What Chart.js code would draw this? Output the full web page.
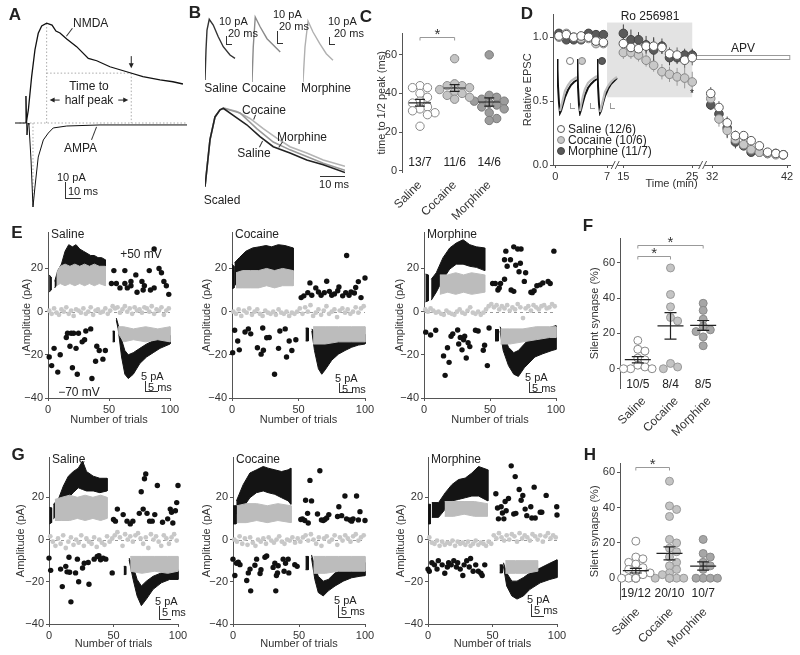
<!DOCTYPE html>
<html lang="en">
<head>
<meta charset="UTF-8">
<title>Silent synapses after cocaine and morphine</title>
<script src="https://cdn.jsdelivr.net/npm/chart.js"></script>
<style>
  body { margin: 0; background: #fff; }
  #fig { position: relative; width: 800px; height: 655px; overflow: hidden; background: #fff;
         font-family: "Liberation Sans", Arial, sans-serif; color: #222; }
  #fig canvas { position: absolute; }
  .t { position: absolute; white-space: nowrap; line-height: 1; transform: translate(-50%, -50%); font-size: 12px; }
  .lt { position: absolute; font-weight: bold; font-size: 17px; transform: translate(-50%, -50%); }
  .bar { position: absolute; border-left: 1px solid #333; border-bottom: 1px solid #333; }
  .seg { position: absolute; height: 1px; background: #333; transform-origin: 0 0; }
  .dot { position: absolute; width: 8px; height: 8px; border-radius: 50%; box-sizing: border-box; transform: translate(-50%, -50%); }
</style>
</head>
<body>
<div id="fig"></div>
<script>
// ---------- panel A traces (ms, pA) ----------
const A_NMDA = [[7.5,0],[8.9,8.7],[11.1,30.9],[13.3,48.7],[15.5,59.8],[17.8,64.7],[21.1,66.5],[24.7,65.3],[27.3,61.3],[30,60],[34.5,56],[41.1,50.9],[48.9,43.1],[54.5,41.5],[63.3,37.5],[76.7,33.5],[85.3,30.9],[96.7,28.7],[105.3,27.5],[112,26]];
const A_AMPA = [[0,0],[6.7,0],[7.3,18],[8,-8],[8.7,0],[9.3,-1],[10.7,-24.7],[12,-56],[13.3,-42.7],[15.5,-22.7],[18.9,-11.3],[22.2,-6.7],[25.5,-3.3],[34.5,-2],[56.7,-1.3],[114.7,-1.3]];

// ---------- panel B traces ----------
const B_SAL = [[0,0],[4,30],[8,50],[17,60.7],[33,55],[53,43.3],[73,33.3],[100,25],[120,21.7]];
const B_COC = [[0,0],[5,35],[13,65],[33,55],[60,43.3],[93,35],[113,30]];
const B_MOR = [[0,0],[8,35],[20,61],[40,50],[67,38.3],[93,28.3],[120,21.7]];
const B_SAL_SCALED = [[0,0],[2,0.6],[4,0.89],[6,0.98],[7.3,1],[11.3,0.91],[16.7,0.79],[22,0.64],[27.3,0.51],[34,0.43],[40.7,0.34],[47.3,0.28],[56,0.18]];
const B_COC_SCALED = [[0,0],[2,0.6],[4,0.89],[6,0.98],[8,1],[12.7,0.96],[18,0.87],[23.3,0.74],[28.7,0.62],[34,0.51],[40.7,0.43],[47.3,0.34],[56,0.26]];
const B_MOR_SCALED = [[0,0],[2,0.6],[4,0.89],[6,0.98],[7.6,1],[14,0.94],[20.7,0.74],[27.3,0.57],[34,0.47],[47.3,0.30],[56,0.21]];

// ---------- panels C, F, H ----------
const GROUPS = ['Saline', 'Cocaine', 'Morphine'];
const C_SAL = [44,43,43,40,38,36,35,33,32,31,30,29,23];
const C_COC = [58,45,44,44,43,42,41,40,39,38,37];
const C_MOR = [60,39,38,37,36,36,35,35,34,33,32,30,27,26];
const C_N = ['13/7', '11/6', '14/6'];
const F_SAL = [16,11,10,6,5,2,1,0,0,0];
const F_COC = [57,42,35,29,27,3,1,0];
const F_MOR = [37,33,28,24,22,21,18,13];
const F_N = ['10/5', '8/4', '8/5'];
const H_SAL = [21,12,11,9,8,6,5,4,3,2,0,0,0,0,0,0,0,0,0];
const H_COC = [55,41,39,35,22,20,17,15,12,9,7,5,3,2,0,0,0,0,0,0];
const H_MOR = [22,14,12,9,7,5,0,0,0,0];
const H_N = ['19/12', '20/10', '10/7'];

// ---------- panel D (time in min, relative EPSC) ----------
const D_T = [0.5,1.5,2.5,3.5,4.5,5.5,6.5, 15,16.1,17.2,18.3,19.4,20.6,21.7,22.8,23.9,25, 31.8,32.9,34,35.1,36.2,37.2,38.3,39.4,40.5,41.5];
const D_TICKS = [0, 7, 15, 25, 32, 42];
const D_SAL = [1.01,1.02,1.0,1.01,1.0,0.97,0.96, 0.95,0.92,0.91,0.93,0.93,0.92,0.87,0.86,0.82,0.84, 0.56,0.45,0.33,0.23,0.23,0.19,0.15,0.10,0.09,0.08];
const D_COC = [1.0,1.03,1.0,0.99,0.99,0.95,0.95, 0.88,0.88,0.86,0.82,0.78,0.73,0.71,0.69,0.68,0.65, 0.52,0.36,0.27,0.20,0.16,0.12,0.10,0.09,0.08,0.08];
const D_MOR = [1.03,0.98,0.98,0.98,1.03,1.02,1.02, 1.03,0.98,0.98,0.94,0.90,0.93,0.84,0.84,0.86,0.86, 0.47,0.40,0.29,0.18,0.15,0.10,0.10,0.09,0.09,0.08];
const D_SAL_ERR = [0.02,0.02,0.02,0.02,0.02,0.02,0.02, 0.04,0.05,0.05,0.05,0.06,0.05,0.05,0.06,0.06,0.06, 0.05,0.05,0.05,0.04,0.03,0.03,0.02,0.02,0.01,0.01];
const D_COC_ERR = [0.02,0.02,0.02,0.02,0.02,0.03,0.03, 0.05,0.05,0.05,0.05,0.05,0.06,0.06,0.07,0.08,0.08, 0.06,0.06,0.05,0.04,0.03,0.02,0.02,0.01,0.01,0.01];
const D_MOR_ERR = [0.02,0.02,0.02,0.02,0.02,0.02,0.02, 0.07,0.08,0.06,0.07,0.10,0.06,0.06,0.05,0.05,0.05, 0.04,0.06,0.08,0.05,0.03,0.02,0.02,0.01,0.01,0.01];
const D_INSET_X = [0,0.5,1,2,3,4,6,8,11,14,17,20];
const D_INSET_BLACK = [[2,-8,-25,-42,-52,-50,-43,-36,-29,-24,-21,-19],[2,-8,-26,-44,-52,-49,-41,-34,-27,-23,-20,-18],[2,-8,-25,-43,-52,-50,-42,-35,-28,-23,-20,-17]];
const D_INSET_GRAY = [[null,null,null,null,-50,-46,-38,-30,-24,-20,-18,-16],[null,null,null,null,-50,-44,-35,-28,-22,-19,-17,-15],[null,null,null,null,-51,-47,-39,-31,-25,-21,-18,-16]];

// ---------- panels E, G (trial number, pA) ----------
const TRIALS = [1,3,5,7,9,11,13,15,17,19,21,23,25,27,29,31,33,35,37,39,41,43,45,47,49,51,53,55,57,59,61,63,65,67,69,71,73,75,77,79,81,83,85,87,89,91,93,95,97,99];

const E_SAL_POS = [[52,13],[54,19],[56,13],[59,11],[63,13],[63,19],[65,11],[68,12],[68,14],[72,17],[73,9],[77,14],[78,10],[79,12],[83,19],[84,10],[87,11],[87,29],[91,20],[93,18],[95,14],[97,12],[99,8]];
const E_SAL_NEG = [[1,-21],[3,-25],[5,-17],[8,-28],[10,-20],[15,-12],[16,-10],[18,-16],[19,-10],[20,-26],[21,-10],[23,-17],[24,-29],[25,-10],[28,-14],[30,-13],[31,-9],[35,-8],[36,-31],[39,-23],[40,-16],[42,-18],[45,-22],[47,-18]];
const E_SAL_GRAY = [0.5,-1,1.5,-0.5,-1.5,1,0,2,-1,0.5,-2,1,0.5,-0.5,1.5,-1,0,2,-1.5,0.5,1,-0.5,0,1.5,-1,0.5,2.5,1.5,2,-0.5,1,2.5,0,1.5,-1,2,0.5,1,-0.5,2,1.5,0,2.5,-1,1,0.5,2,-1.5,0.5,1.5];
const E_SAL_TOP = [[5.5,14,11],[8,19,13],[11,22,16],[14,28,19],[17,31,21],[20,30,21],[23,31,20],[26,29,21],[29,28,20],[32,27,20],[35,26,21],[38,26,20],[41,25,20],[44,25,20],[47,24,20]];
const E_SAL_TOP_GRAY = [[7,18,12],[10,21,13],[14,22,12],[18,21,13],[22,22,12],[26,21,13],[30,22,12],[34,21,13],[38,22,12],[42,21,13],[47,21,12]];
const E_SAL_TOP_ART = [[1,17,9],[2.5,16,10]];
const E_SAL_BOT = [[56,-3,-4],[57.5,-6,-8],[60.3,-13,-21],[63,-18,-29],[65.8,-20,-31],[69.9,-19,-29],[75.3,-17,-24],[80.8,-15,-21],[86.3,-13.5,-19],[91.8,-12,-17],[100,-11,-15]];
const E_SAL_BOT_GRAY = [[57.5,-7,-10],[62,-7,-14],[70,-8,-13],[80,-7,-14],[90,-8,-13],[100,-7,-14]];
const E_SAL_BOT_ART = [[53,-9,-14],[54.5,-9,-14]];

const E_COC_POS = [[52,6.5],[54,7.3],[57,8.8],[58.6,13.3],[60,7.6],[63,11],[65,9.1],[67,7.6],[69.4,8.8],[71.2,14.1],[73.2,9.4],[75,7.6],[77,8.2],[79.5,9.7],[80.4,11.4],[83.2,7.3],[85.5,8.8],[86.2,26],[88,7.6],[89.5,9.1],[92,8.6],[93,11.2],[95,13.9],[97,6.5],[100,15.6]];
const E_COC_NEG = [[0.5,-19],[2,-8.6],[4.3,-13.6],[5.5,-17.7],[9.8,-9.4],[12.3,-8],[14.1,-10.3],[19.1,-16.7],[21.9,-19.7],[23.1,-7.6],[23.6,-17.9],[26.1,-12.1],[28,-12],[32,-29],[35,-17],[36,-9],[40,-8],[41,-21],[43,-13.6],[45,-18],[48,-13]];
const E_COC_GRAY = [0,-1,1,-2,0.5,-0.5,1.5,-1.5,0,1,-1,-2,0.5,-0.5,-1,0,-1.5,1,-0.5,-1,0,-2,-0.5,-1,0,1.5,-1,2,0,3,-2,-0.5,1,-1.5,0.5,2.5,-1,0,1,-2.5,0.5,1.5,-0.5,1,-1,0,2,-0.5,1.5,2.5];
const E_COC_TOP = [[2,22.7,12],[5.5,25,14.4],[10.5,28,16.7],[15.5,29.5,17.4],[20.5,30,18],[25.5,30.6,18.5],[29.8,30,19],[34.8,31,18.5],[39.8,30.6,17.4],[46,29.5,15]];
const E_COC_TOP_GRAY = [[3,18,11],[8,19,11],[14,19,11],[20,19,11],[26,20,12],[32,19,11],[38,20,12],[46,19,12]];
const E_COC_TOP_ART = [[0,22,10.6],[1.5,21,11]];
const E_COC_BOT = [[60,-8,-9],[62,-9.5,-18],[65,-13.5,-26.5],[67.5,-15,-29],[70,-15,-27],[75,-14,-22.5],[80,-13,-19.7],[85,-12,-18],[90,-11.5,-16.5],[95,-11,-15.5],[100,-10.5,-15]];
const E_COC_BOT_GRAY = [[61,-7,-15],[70,-7,-15],[80,-7,-14],[90,-7,-14],[100,-7,-14]];
const E_COC_BOT_ART = [[55.4,-7.6,-13.6],[57.4,-7.6,-13.6]];

const E_MOR_POS = [[52,13],[54,13],[56,10],[57,11],[58,13],[61,15],[61,24],[62,28],[63,21],[65.5,24],[66,10],[68,9.4],[68,30],[69.5,21.5],[71,29],[72,18.5],[73,22.4],[73.5,29],[76,14],[77,18],[81,9],[82,8.8],[83.4,9.7],[85.5,12],[88,12.4],[90,13.3],[94,14],[95.6,13],[98.4,28]];
const E_MOR_NEG = [[1.3,-9.5],[5,-10.8],[8.9,-8.6],[14.8,-20.5],[16,-29.5],[17.8,-16.7],[19,-23.5],[20.5,-11.4],[21.8,-10.3],[25.5,-8.5],[26.3,-15],[27.5,-12],[28.8,-17.7],[30,-13],[30.8,-11.4],[32,-21.5],[33.4,-14.4],[34.7,-16.2],[39,-8.6],[41,-9],[44.9,-17.9],[45.9,-15.6],[48,-25],[49.3,-7.6]];
const E_MOR_GRAY = [1,0,1.5,0.5,-0.5,0,-1,-1.5,0.5,-0.5,-1,-1.5,0,1,-0.5,-1,0.5,2,-0.5,-1,0,-1.5,-0.5,1,2.5,3.5,2,3,1,2.5,1.5,3,0.5,2,1,3.5,2,-3,1.5,2.5,0.5,3,2,1,2.5,3,1.5,2,3.5,2.5];
const E_MOR_TOP = [[5.5,15,5.3],[9.3,18,9],[14.4,25,15],[19.5,29.5,19.7],[24.5,31.8,22],[29.6,33.3,22],[34.7,31,21],[39.7,30,20.5],[46,29.5,19]];
const E_MOR_TOP_GRAY = [[12,17,8],[18,17,9],[24,18,8],[30,17,9],[36,18,8],[46,17,9]];
const E_MOR_TOP_ART = [[1.2,17.4,4.5],[3.2,17,5]];
const E_MOR_BOT = [[57.6,-7,-9],[60,-10.5,-18],[64,-16.5,-25],[68,-19,-29],[71.5,-18,-30],[76,-15,-26],[84,-10,-21],[90,-8.5,-19.5],[97,-7,-18],[100,-6.5,-17.5]];
const E_MOR_BOT_GRAY = [[58,-8,-15],[65,-8,-15],[75,-8,-14],[85,-7,-13],[95,-7,-12],[100,-7,-12]];
const E_MOR_BOT_ART = [[53.8,-8.3,-13.6],[56.4,-8.3,-13.6]];

const G_SAL_POS = [[50,9.5],[51.5,8.7],[53,14.4],[57.5,11.8],[60.5,8.7],[63,7.4],[65,8.7],[70,12.4],[71.5,22.6],[73,14.4],[74,28.8],[75,31],[76,12.4],[78,8.7],[80,8.7],[82,11.8],[84,25.6],[88,8.2],[92,9.8],[94,14.4],[95,12.9],[96,7.8],[98,13.6],[99,17.5],[100,25.6]];
const G_SAL_NEG = [[0,-8.8],[1.3,-14.6],[9,-14],[10.3,-22.3],[13,-12.7],[14,-15.3],[15.5,-8.4],[16,-15.5],[17,-29.5],[20.6,-15.8],[22,-9.3],[23,-20],[26,-13.5],[27.3,-11.2],[30.4,-10.9],[31,-21.2],[35,-9.3],[37.4,-8],[38.7,-7.6],[40,-9.6],[42,-8.8],[44,-9.3],[49,-15.8]];
const G_SAL_GRAY = [1.5,-1,-3,0.5,-2,2,-4,-1,1,-2.5,0,-1.5,2,-3,0.5,-1,-2,1,-3.5,0,-1.5,-2.5,1.5,-1,0.5,2,3.5,1,-3,2.5,0,1.5,-1,2,3,0.5,-2,1,-4,2.5,0,1.5,-1,-3,2,0.5,-2,1,2.5,-0.5];
const G_SAL_TOP = [[3.4,16.7,9.8],[7.2,19,12],[11.1,25.3,15.2],[15,30,19.8],[18.8,32.2,22.2],[22.7,33.8,24.5],[26,37.2,23.7],[29.1,32.2,23],[34.3,30,23],[39.4,29,22.2],[45,29,23]];
const G_SAL_TOP_GRAY = [[4.6,19,9],[10,20,9],[16,21,9],[22,20,10],[28,21,9],[34,20,10],[40,21,9],[45,20,10]];
const G_SAL_TOP_ART = [[0.3,15.2,7.4],[2,15,8]];
const G_SAL_BOT = [[62.1,-8.8,-9.6],[65.2,-12.7,-18.9],[68.3,-18.9,-26.7],[71.6,-22,-31.3],[75.5,-19.7,-28.2],[80.7,-17.4,-23.6],[87.1,-15.8,-20.5],[93.6,-15,-18.9],[100,-14.3,-18.9]];
const G_SAL_BOT_GRAY = [[63,-8,-15],[72,-8,-16],[82,-8,-15],[92,-8,-16],[100,-8,-15]];
const G_SAL_BOT_ART = [[58,-12.7,-16.6],[59.5,-12.7,-16.6]];

const G_COC_POS = [[51.4,9.5],[52.6,9.8],[54.4,9],[55,18.6],[56.5,12.4],[57,7.8],[58.3,28],[59.5,18.3],[64,12.1],[65.8,32.6],[67,9.3],[68.4,9],[69.6,9.5],[71,10.2],[72.6,11.8],[79.2,10.9],[80.2,15.5],[82.3,11.3],[84.8,20.6],[86,9.8],[88.6,9.3],[89.9,8.7],[91,9.8],[93.6,20.6],[95,9.3],[96.2,13.2],[100,9]];
const G_COC_NEG = [[0,-9.3],[1.4,-17],[2.7,-11.2],[4,-10.7],[5.3,-11.9],[10.4,-19.4],[11.6,-15.8],[12.9,-14],[13.4,-24.3],[16.6,-12.2],[17.9,-9.3],[20.5,-16.1],[21.2,-14.3],[24.2,-8.4],[25.5,-7.8],[30.4,-13.2],[31.7,-11.2],[32.4,-24.3],[32.9,-17],[33.7,-15.8],[34.2,-12.4],[38,-9.3],[38.7,-15],[39.8,-11.2],[41.8,-9.3],[42.3,-15.8],[46.8,-11.9],[48.6,-12.7]];
const G_COC_GRAY = [0,-1,1.5,-2,0.5,-2.5,1,-1.5,-3,0,-1,0.5,-2,1,-0.5,-1.5,0,1.5,-1,-2,0,-0.5,1,-1.5,0.5,-1,1,2,-0.5,2.5,0,-2,1,-3,0.5,1.5,-1,0,2,-2.5,1,-0.5,2,0.5,-1,1.5,2.5,-0.5,1,2];
const G_COC_TOP = [[2.6,18.3,12],[7.7,26,15.2],[12.8,31.5,19.8],[17.8,33,22.2],[22.9,34.6,23],[26.6,33.8,22.2],[31.7,33,21.4],[36.8,32.2,19.8],[41.8,33,18.3],[43.8,33.8,16.7]];
const G_COC_TOP_GRAY = [[3,16,8],[10,17,8],[18,17,9],[26,16,8],[34,17,9],[44,16,8]];
const G_COC_TOP_ART = [[0,16,7.4],[2.3,16,7.4]];
const G_COC_BOT = [[59.5,-7.3,-8.8],[62,-12.7,-18.9],[64.6,-17.4,-25.1],[68.4,-19.7,-26.7],[72.2,-18.9,-24.3],[77.3,-15.8,-22],[83.6,-13.5,-19.7],[89.9,-11.9,-18.1],[96.2,-11.2,-17.4],[100,-10.9,-17.1]];
const G_COC_BOT_GRAY = [[61,-8,-16],[70,-8,-16],[80,-8,-15],[90,-8,-15],[100,-8,-15]];
const G_COC_BOT_ART = [[55,-8,-14.3],[57,-8,-14.3]];

const G_MOR_POS = [[52.6,21.7],[53.9,14.9],[54.6,9.8],[56.7,15.5],[57.7,12.6],[58.8,9.8],[59.8,18],[60.6,13.6],[62.4,19.4],[64.5,34.9],[66.5,12.1],[67.6,29.8],[68.1,12.4],[70.7,23.7],[72.2,18.6],[73.5,20.9],[75.3,14.4],[76.6,11.3],[79.7,15.5],[80.5,10.2],[82.3,24.8],[83.1,10.2],[87,12.9],[88.2,12.9],[91.6,20.9],[99.8,15.5],[100,11.6]];
const G_MOR_NEG = [[0,-14],[1,-15],[3,-11],[5,-12],[7,-14],[8,-10],[11,-12],[13,-16],[15,-13],[16,-11],[18,-12],[20,-10],[22,-13],[23,-11],[25,-14],[27,-17],[28,-12],[30,-10],[32,-13],[33,-9],[35,-15],[37,-12],[39,-15],[41,-16],[42,-17],[44,-12]];
const G_MOR_GRAY = [1,-1.5,-2,-0.5,-3,-1,-2.5,-1.5,-2,-0.5,-3,-1,-2,-1.5,-2.5,-1,-3,-2,-0.5,-2.5,-1.5,-2,-3,-1,-2,2,0.5,3,1,-0.5,2,0,2.5,1.5,-1,3,0.5,2,1,-0.5,2.5,1.5,0,2,-1,1.5,3,0.5,2,1];
const G_MOR_TOP = [[3,17.5,10.5],[8.2,17.5,10.5],[13.4,22.2,14.4],[18.5,26,18.3],[23.7,28.4,19],[28.9,29.1,19.8],[34,31.5,20.6],[39.2,34.6,20.6],[46.4,33,18.3]];
const G_MOR_TOP_GRAY = [[13,18,11],[20,18,11],[28,18,12],[36,18,11],[46,17,11]];
const G_MOR_TOP_ART = [[0,16.7,7.4],[1.8,16.7,7.4]];
const G_MOR_BOT = [[58.5,-11,-12.7],[61,-15.8,-22],[65,-19.7,-26.7],[69,-19.7,-28.2],[74,-18,-26.7],[79,-15.8,-23.6],[87,-13.5,-20.5],[94.5,-11.2,-18.9],[100,-9.6,-18]];
const G_MOR_BOT_GRAY = [[60,-10,-16],[68,-10,-16],[76,-10,-16],[85,-10,-15]];
const G_MOR_BOT_ART = [[55.6,-12,-15.8],[57.7,-12,-15.8]];

// ---------- helpers ----------
Chart.defaults.font.family = '"Liberation Sans", Arial, sans-serif';
Chart.defaults.font.size = 11;
Chart.defaults.color = '#333';

const FIG = document.getElementById('fig');
const FONT = '"Liberation Sans", Arial, sans-serif';
const pts = a => a.map(p => ({x: p[0], y: p[1]}));
const minus = v => v < 0 ? '\u2212' + Math.abs(v) : String(v);

// canvas sized so that the plot area lands exactly on `area`
function mkCanvas(area, yw, xh, padT, padR) {
  const c = document.createElement('canvas');
  const w = Math.round(area.r - area.l + yw + padR), h = Math.round(area.b - area.t + padT + xh);
  c.width = w; c.height = h;
  c.style.left = (area.l - yw) + 'px'; c.style.top = (area.t - padT) + 'px';
  c.style.width = w + 'px'; c.style.height = h + 'px';
  FIG.appendChild(c);
  return c;
}
function txt(s, x, y, size, anchor, extra) {
  const d = document.createElement('div');
  d.className = 't'; d.textContent = s;
  d.style.left = x + 'px'; d.style.top = y + 'px';
  if (size) d.style.fontSize = size + 'px';
  if (anchor === 'l') d.style.transform = 'translate(0,-50%)';
  if (extra) Object.assign(d.style, extra);
  FIG.appendChild(d);
}
function letter(s, x, y) {
  const d = document.createElement('div');
  d.className = 'lt'; d.textContent = s;
  d.style.left = x + 'px'; d.style.top = y + 'px';
  FIG.appendChild(d);
}
function lbar(x, y, w, h, color) {
  const d = document.createElement('div');
  d.className = 'bar';
  Object.assign(d.style, {left: x + 'px', top: y + 'px', width: w + 'px', height: h + 'px'});
  if (color) { d.style.borderLeftColor = color; d.style.borderBottomColor = color; }
  FIG.appendChild(d);
}
function seg(x1, y1, x2, y2, color) {
  const d = document.createElement('div');
  d.className = 'seg';
  const len = Math.hypot(x2 - x1, y2 - y1), ang = Math.atan2(y2 - y1, x2 - x1) * 180 / Math.PI;
  Object.assign(d.style, {left: x1 + 'px', top: y1 + 'px', width: len + 'px', transform: 'rotate(' + ang + 'deg)'});
  if (color) d.style.background = color;
  FIG.appendChild(d);
}
function dot(x, y, fill, border) {
  const d = document.createElement('div');
  d.className = 'dot';
  Object.assign(d.style, {left: x + 'px', top: y + 'px', background: fill, border: '1px solid ' + border});
  FIG.appendChild(d);
}
function axis(o) {
  return {
    type: 'linear', min: o.min, max: o.max, display: true,
    afterFit: s => { if (s.isHorizontal()) s.height = o.size; else s.width = o.size; },
    afterBuildTicks: s => { s.ticks = o.ticks.map(v => ({value: v})); },
    grid: {display: o.marks !== false, drawOnChartArea: false, drawTicks: true, tickLength: 3, color: '#555'},
    border: {display: o.line !== false, color: '#555'},
    ticks: {color: '#333', font: {size: o.font || 11}, padding: o.pad || 2, autoSkip: false,
            minRotation: o.rot || 0, maxRotation: o.rot || 0, labelOffset: o.labelOffset || 0,
            callback: o.fmt || (v => minus(v))},
    title: o.title ? {display: true, text: o.title, font: {size: 11}, padding: 0, color: '#333'} : {display: false}
  };
}
function baseOptions(padT, padR, scales) {
  return {
    responsive: false, animation: false, events: [],
    layout: {padding: {top: padT, right: padR, left: 0, bottom: 0}},
    plugins: {legend: {display: false}, tooltip: {enabled: false}},
    scales: scales
  };
}
function bareScales(xmin, xmax, ymin, ymax) {
  return {x: {type: 'linear', display: false, min: xmin, max: xmax}, y: {type: 'linear', display: false, min: ymin, max: ymax}};
}
function traceSet(arr, color, width, dash) {
  return {data: pts(arr), borderColor: color, borderWidth: width, pointRadius: 0, fill: false, clip: false, borderDash: dash || [], spanGaps: false};
}

// ---------- panel A ----------
(function panelA() {
  const area = {l: 15, t: 15, r: 190, b: 210};
  const c = mkCanvas(area, 0, 0, 0, 0);
  let ip = 0;
  A_NMDA.forEach((p, i) => { if (p[1] > A_NMDA[ip][1]) ip = i; });
  const [tPk, vPk] = A_NMDA[ip], half = vPk / 2;
  let tHalf = tPk;
  for (let i = ip; i < A_NMDA.length - 1; i++) {
    const [t0, v0] = A_NMDA[i], [t1, v1] = A_NMDA[i + 1];
    if (v0 >= half && v1 <= half) { tHalf = t0 + (v0 - half) / (v0 - v1) * (t1 - t0); break; }
  }
  let ia = 0;
  A_AMPA.forEach((p, i) => { if (p[1] < A_AMPA[ia][1]) ia = i; });
  const tEnd = A_AMPA[A_AMPA.length - 1][0], tAm = A_AMPA[ia][0];
  const guide = '#aaa', dash = [1.5, 2];
  const arrows = {
    id: 'arrows',
    afterDatasetsDraw(chart) {
      const {ctx, scales: {x, y}} = chart;
      const head = (xt, yt, dx, dy) => {
        ctx.beginPath(); ctx.moveTo(xt, yt);
        ctx.lineTo(xt - dx * 5 - dy * 2.5, yt - dy * 5 - dx * 2.5);
        ctx.lineTo(xt - dx * 5 + dy * 2.5, yt - dy * 5 + dx * 2.5);
        ctx.closePath(); ctx.fill();
      };
      ctx.save(); ctx.strokeStyle = '#222'; ctx.fillStyle = '#222'; ctx.lineWidth = 1;
      const ya = y.getPixelForValue(half / 2) + 2;
      const xp = x.getPixelForValue(tPk), xh = x.getPixelForValue(tHalf);
      ctx.beginPath(); ctx.moveTo(xp + 13, ya); ctx.lineTo(xp + 6, ya); ctx.stroke(); head(xp + 3, ya, -1, 0);
      ctx.beginPath(); ctx.moveTo(xh - 13, ya); ctx.lineTo(xh - 6, ya); ctx.stroke(); head(xh - 3, ya, 1, 0);
      const yt = y.getPixelForValue(half) - 5;
      ctx.beginPath(); ctx.moveTo(xh, yt - 12); ctx.lineTo(xh, yt - 3); ctx.stroke(); head(xh, yt, 0, 1);
      ctx.restore();
    }
  };
  new Chart(c, {
    type: 'line',
    data: {datasets: [
      traceSet(A_NMDA, '#111', 1.3),
      traceSet(A_AMPA, '#111', 1),
      traceSet([[A_AMPA[0][0] + 3, 0], [tEnd, 0]], guide, 1, dash),
      traceSet([[tPk, 0], [tPk, vPk]], guide, 1, dash),
      traceSet([[tPk, half], [tHalf, half]], guide, 1, dash),
      traceSet([[tHalf, half], [tHalf, 0]], guide, 1, dash),
      traceSet([[tAm, 0], [tAm, A_AMPA[ia][1]]], guide, 1, dash)
    ]},
    options: baseOptions(0, 0, bareScales(0, 116.7, -58, 72)),
    plugins: [arrows]
  });
  letter('A', 15, 15);
  txt('NMDA', 73, 23, 12, 'l');
  seg(66, 36, 72, 28);
  txt('Time to', 89, 86, 12);
  txt('half peak', 89, 100, 12);
  txt('AMPA', 64, 148, 12, 'l');
  seg(97, 127, 92, 140);
  txt('10 pA', 57, 177, 11, 'l');
  lbar(65, 182, 15, 16);
  txt('10 ms', 68, 191, 11, 'l');
})();

// ---------- panel B ----------
(function panelB() {
  const small = [
    {data: B_SAL, l: 205, b: 80, color: '#333'},
    {data: B_COC, l: 252, b: 82, color: '#8a8a8a'},
    {data: B_MOR, l: 303, b: 82, color: '#b0b0b0'}
  ];
  small.forEach(s => {
    const area = {l: s.l, t: 12, r: s.l + 36, b: s.b};
    const c = mkCanvas(area, 0, 0, 0, 0);
    new Chart(c, {type: 'line', data: {datasets: [traceSet(s.data, s.color, 1.4)]},
      options: baseOptions(0, 0, bareScales(0, 144, 0, s.b - 12))});
  });
  const area = {l: 205, t: 105, r: 345, b: 190};
  const c = mkCanvas(area, 0, 0, 0, 0);
  new Chart(c, {type: 'line', data: {datasets: [
      traceSet(B_SAL_SCALED, '#222', 1.6),
      traceSet(B_MOR_SCALED, '#9a9a9a', 1.6),
      traceSet(B_COC_SCALED, '#b4b4b4', 1.6)
    ]},
    options: baseOptions(0, 0, bareScales(0, 56, -0.042, 1.042))});
  letter('B', 195, 13);
  txt('10 pA', 219, 21, 11, 'l'); txt('20 ms', 228, 33, 11, 'l'); lbar(226, 36, 5, 8);
  txt('10 pA', 273, 14, 11, 'l'); txt('20 ms', 279, 26, 11, 'l'); lbar(277, 31, 5, 12);
  txt('10 pA', 328, 21, 11, 'l'); txt('20 ms', 334, 33, 11, 'l'); lbar(329, 37, 5, 7);
  txt('Saline', 221, 88, 12); txt('Cocaine', 264, 88, 12); txt('Morphine', 326, 88, 12);
  txt('Cocaine', 264, 110, 12); seg(256, 115, 254, 120);
  txt('Morphine', 302, 137, 12); seg(283, 142, 279, 148);
  txt('Saline', 254, 153, 12); seg(259, 147, 262, 141);
  txt('Scaled', 222, 200, 12);
  seg(320, 176, 345, 176);
  txt('10 ms', 334, 184, 11);
})();

// ---------- dot panels C, F, H ----------
function meanSem(v) {
  const n = v.length, m = v.reduce((a, b) => a + b, 0) / n;
  const sd = Math.sqrt(v.reduce((a, b) => a + (b - m) * (b - m), 0) / (n - 1));
  return [m, sd / Math.sqrt(n)];
}
function swarm(vals, ky, kx, r) {
  const placed = [];
  const steps = [0, 1.8, -1.8, 0.9, -0.9, 2.7, -2.7, 3.6, -3.6, 4.5, -4.5];
  return vals.map(v => {
    const y = v * ky;
    let best = 0;
    for (const s of steps) {
      const x = s * r;
      if (placed.every(p => Math.hypot(p.x - x, p.y - y) >= 1.7 * r)) { best = x; break; }
    }
    placed.push({x: best, y: y});
    return best / kx;
  });
}
function dotPanel(o) {
  const padT = 8, padR = 4, xh = 50;
  const c = mkCanvas(o.area, o.yw, xh, padT, padR);
  const ky = (o.area.b - o.area.t) / (o.yMax - o.yMin);
  const kx = (o.area.r - o.area.l) / (o.xMax - o.xMin);
  const datasets = o.groups.map((vals, g) => {
    const sorted = vals.slice().sort((a, b) => b - a);
    const offs = swarm(sorted, ky, kx, o.r);
    return {data: sorted.map((v, i) => ({x: g + offs[i], y: v})), showLine: false, clip: false,
      pointRadius: o.r, pointBackgroundColor: o.fills[g], pointBorderColor: o.borders[g], pointBorderWidth: 1};
  });
  const deco = {
    id: 'dotDeco',
    afterDatasetsDraw(chart) {
      const {ctx, scales: {x, y}} = chart;
      ctx.save();
      ctx.strokeStyle = '#222'; ctx.lineWidth = 1.2;
      o.groups.forEach((vals, g) => {
        const [m, se] = meanSem(vals);
        const cx = x.getPixelForValue(g), ym = y.getPixelForValue(m);
        const yt = y.getPixelForValue(m + se), yb = y.getPixelForValue(m - se);
        ctx.beginPath();
        ctx.moveTo(cx - o.mw, ym); ctx.lineTo(cx + o.mw, ym);
        ctx.moveTo(cx, yt); ctx.lineTo(cx, yb);
        ctx.moveTo(cx - o.cw, yt); ctx.lineTo(cx + o.cw, yt);
        ctx.moveTo(cx - o.cw, yb); ctx.lineTo(cx + o.cw, yb);
        ctx.stroke();
      });
      ctx.fillStyle = '#222'; ctx.font = '12px ' + FONT;
      ctx.textAlign = 'center'; ctx.textBaseline = 'middle';
      const y0 = y.getPixelForValue(0) + o.nOff;
      o.n.forEach((s, g) => ctx.fillText(s, x.getPixelForValue(g), y0));
      ctx.strokeStyle = '#999'; ctx.lineWidth = 1;
      o.brackets.forEach(([a, b, v]) => {
        const xa = x.getPixelForValue(a), xb = x.getPixelForValue(b), yv = Math.round(y.getPixelForValue(v)) + 0.5;
        ctx.beginPath(); ctx.moveTo(xa, yv + 3); ctx.lineTo(xa, yv); ctx.lineTo(xb, yv); ctx.lineTo(xb, yv + 3); ctx.stroke();
        ctx.fillStyle = '#333'; ctx.font = '15px ' + FONT;
        ctx.fillText('*', (xa + xb) / 2, yv - 3);
      });
      ctx.restore();
    }
  };
  new Chart(c, {
    type: 'line', data: {datasets},
    options: baseOptions(padT, padR, {
      x: axis({min: o.xMin, max: o.xMax, size: xh, ticks: [0, 1, 2], marks: false, line: false, rot: 45,
               font: 12, pad: 3, labelOffset: o.labelOffset, fmt: (v, i) => GROUPS[i]}),
      y: axis({min: o.yMin, max: o.yMax, size: o.yw, ticks: [0, 20, 40, 60], title: o.title})
    }),
    plugins: [deco]
  });
}
const C_BRACKETS = [[0, 1, 69]];
const F_BRACKETS = [[0, 1, 63.6], [0, 2, 70]];
const H_BRACKETS = [[0, 1, 63.3]];
dotPanel({area: {l: 402, t: 33, r: 506, b: 172}, yw: 27, xMin: -0.52, xMax: 2.45, yMin: -0.7, yMax: 71,
  groups: [C_SAL, C_COC, C_MOR], n: C_N, nOff: -8, brackets: C_BRACKETS, r: 4.2, mw: 11, cw: 5, labelOffset: 0,
  fills: ['#fff', '#c4c4c4', '#9c9c9c'], borders: ['#888', '#8c8c8c', '#7a7a7a'], title: 'time to 1/2 peak (ms)'});
dotPanel({area: {l: 620, t: 238, r: 722, b: 388}, yw: 32, xMin: -0.545, xMax: 2.545, yMin: -10.9, yMax: 73.6,
  groups: [F_SAL, F_COC, F_MOR], n: F_N, nOff: 16, brackets: F_BRACKETS, r: 4, mw: 13, cw: 6, labelOffset: 6,
  fills: ['#fff', '#c4c4c4', '#a6a6a6'], borders: ['#888', '#999', '#8a8a8a'], title: 'Silent synapse (%)'});
dotPanel({area: {l: 620, t: 463, r: 722, b: 599}, yw: 32, xMin: -0.47, xMax: 2.53, yMin: -11.8, yMax: 65,
  groups: [H_SAL, H_COC, H_MOR], n: H_N, nOff: 15, brackets: H_BRACKETS, r: 4, mw: 13, cw: 6, labelOffset: 2,
  fills: ['#fff', '#c4c4c4', '#a6a6a6'], borders: ['#888', '#999', '#8a8a8a'], title: 'Silent synapse (%)'});
letter('C', 366, 17);
letter('F', 588, 226);
letter('H', 590, 455);

// ---------- panel D ----------
// broken time axis: [t0, t1, u0, u1] for each piece of the axis
const D_SEGMENTS = [[0, 7, 0, 7], [15, 25, 9.2, 18.5], [32, 42, 21.2, 31.3]];
function uOf(t) {
  const s = t < 11 ? D_SEGMENTS[0] : (t < 28.5 ? D_SEGMENTS[1] : D_SEGMENTS[2]);
  return s[2] + (t - s[0]) * (s[3] - s[2]) / (s[1] - s[0]);
}
const D_RO = [7, 25], D_RO_Y = [0.53, 1.115], D_APV = [25, 42.3], D_APV_Y = 0.845, D_BREAKS = [8.1, 19.9];
(function panelD() {
  const area = {l: 553, t: 14, r: 790, b: 165};
  const yw = 32, xh = 26, padT = 8, padR = 12;
  const c = mkCanvas(area, yw, xh, padT, padR);
  const series = (vals, err, fill, border, errColor) => ({
    data: D_T.map((t, i) => ({x: uOf(t), y: vals[i]})), err: err, errColor: errColor,
    showLine: false, clip: false, pointRadius: 4.3, pointBackgroundColor: fill, pointBorderColor: border, pointBorderWidth: 1
  });
  const deco = {
    id: 'dDeco',
    beforeDatasetsDraw(chart) {
      const {ctx, scales: {x, y}} = chart;
      ctx.save();
      const x0 = x.getPixelForValue(uOf(D_RO[0])), x1 = x.getPixelForValue(uOf(D_RO[1]));
      const y0 = y.getPixelForValue(D_RO_Y[1]), y1 = y.getPixelForValue(D_RO_Y[0]);
      ctx.fillStyle = '#e3e3e3'; ctx.fillRect(x0, y0, x1 - x0, y1 - y0);
      const xa = x.getPixelForValue(uOf(D_APV[0])), xb = x.getPixelForValue(uOf(D_APV[1])), ya = y.getPixelForValue(D_APV_Y);
      ctx.fillStyle = '#fff'; ctx.strokeStyle = '#999'; ctx.lineWidth = 1;
      ctx.fillRect(xa, ya - 2, xb - xa, 4); ctx.strokeRect(xa + 0.5, Math.round(ya - 2) + 0.5, xb - xa, 4);
      chart.data.datasets.forEach((ds, di) => {
        const meta = chart.getDatasetMeta(di);
        ctx.strokeStyle = ds.errColor; ctx.lineWidth = 1;
        meta.data.forEach((pt, i) => {
          const v = ds.data[i].y, e = ds.err[i];
          ctx.beginPath(); ctx.moveTo(pt.x, y.getPixelForValue(v + e)); ctx.lineTo(pt.x, y.getPixelForValue(v - e)); ctx.stroke();
        });
      });
      ctx.restore();
    },
    afterDraw(chart) {
      const {ctx, chartArea: a, scales: {x}} = chart;
      ctx.save(); ctx.strokeStyle = '#555'; ctx.lineWidth = 1;
      D_BREAKS.forEach(u => {
        const xp = x.getPixelForValue(u);
        ctx.fillStyle = '#fff'; ctx.fillRect(xp - 2, a.bottom - 2, 4, 4);
        [-2, 2].forEach(d => { ctx.beginPath(); ctx.moveTo(xp + d - 2, a.bottom + 4); ctx.lineTo(xp + d + 2, a.bottom - 4); ctx.stroke(); });
      });
      ctx.restore();
    }
  };
  new Chart(c, {
    type: 'line',
    data: {datasets: [
      series(D_SAL, D_SAL_ERR, '#fff', '#555', '#666'),
      series(D_COC, D_COC_ERR, '#c8c8c8', '#888', '#999'),
      series(D_MOR, D_MOR_ERR, '#5a5a5a', '#444', '#444')
    ]},
    options: baseOptions(padT, padR, {
      x: axis({min: -0.3, max: 31.7, size: xh, ticks: D_TICKS.map(uOf), title: 'Time (min)', fmt: (v, i) => String(D_TICKS[i])}),
      y: axis({min: 0, max: 1.177, size: yw, ticks: [0, 0.5, 1], title: 'Relative EPSC', fmt: v => v.toFixed(1)})
    }),
    plugins: [deco]
  });
  // inset EPSCs
  [557, 577, 597].forEach((l, k) => {
    const ic = mkCanvas({l: l, t: 57, r: l + 21, b: 116}, 0, 0, 0, 0);
    new Chart(ic, {type: 'line', data: {datasets: [
        {data: D_INSET_X.map((t, i) => ({x: t, y: D_INSET_GRAY[k][i]})), borderColor: '#bbb', borderWidth: 2.2, pointRadius: 0, clip: false, spanGaps: false},
        {data: D_INSET_X.map((t, i) => ({x: t, y: D_INSET_BLACK[k][i]})), borderColor: '#111', borderWidth: 2, pointRadius: 0, clip: false}
      ]},
      options: baseOptions(0, 0, bareScales(0, 21, -55, 4))});
  });
  dot(570, 61, '#fff', '#777'); dot(582, 61, '#c8c8c8', '#888'); dot(602, 61, '#5a5a5a', '#444');
  [570, 590, 610].forEach(x => lbar(x, 103, 4, 5, '#999'));
  letter('D', 527, 14);
  txt('Ro 256981', 650, 16, 12);
  txt('APV', 743, 48, 12);
  txt('*', 692, 94, 10);
  dot(561, 129, '#fff', '#555'); txt('Saline (12/6)', 568, 129, 12, 'l');
  dot(561, 140, '#c8c8c8', '#888'); txt('Cocaine (10/6)', 568, 140, 12, 'l');
  dot(561, 151, '#5a5a5a', '#444'); txt('Morphine (11/7)', 568, 151, 12, 'l');
})();

// ---------- trial panels E, G ----------
const zeroLine = {
  id: 'zeroLine',
  beforeDatasetsDraw(chart) {
    const {ctx, chartArea: a, scales: {y}} = chart;
    const yy = Math.round(y.getPixelForValue(0)) + 0.5;
    ctx.save(); ctx.strokeStyle = '#999'; ctx.lineWidth = 1; ctx.setLineDash([3, 3]);
    ctx.beginPath(); ctx.moveTo(a.left, yy); ctx.lineTo(a.right, yy); ctx.stroke(); ctx.restore();
  }
};
function trialPanel(p) {
  const padT = 8, padR = 14;
  const c = mkCanvas(p.area, p.yw, p.xh, padT, padR);
  const band = (rows, color, order) => ({
    data: rows.map(r => ({x: r[0], y: r[1]})).concat(rows.slice().reverse().map(r => ({x: r[0], y: r[2]}))),
    borderColor: color, backgroundColor: color, borderWidth: 1, pointRadius: 0, fill: 'shape', order: order, clip: false
  });
  const dots = (arr, color, r, order) => ({data: arr, showLine: false, pointRadius: r, pointBackgroundColor: color,
    pointBorderWidth: 0, order: order, clip: false});
  const black = '#141414', gray = '#bcbcbc';
  new Chart(c, {
    type: 'line',
    data: {datasets: [
      band(p.top, black, 5), band(p.topArt, black, 5), band(p.bot, black, 5), band(p.botArt, black, 5),
      band(p.topGray, gray, 4), band(p.botGray, gray, 4),
      dots(TRIALS.map((t, i) => ({x: t, y: p.gray[i]})), '#c8c8c8', 2.4, 2),
      dots(pts(p.pos), '#111', 2.7, 1),
      dots(pts(p.neg), '#111', 2.7, 1)
    ]},
    options: baseOptions(padT, padR, {
      x: axis({min: 0, max: 100, size: p.xh, ticks: [0, 50, 100], title: 'Number of trials'}),
      y: axis({min: -40, max: p.yMax, size: p.yw, ticks: [-40, -20, 0, 20], title: 'Amplitude (pA)'})
    }),
    plugins: [zeroLine]
  });
  txt(p.name, p.area.l + 3, p.area.t + 2, 12, 'l');
  const [bx, by, bw, bh] = p.scale;
  lbar(bx, by, bw, bh);
  txt('5 pA', bx - 4, by - 5, 11, 'l');
  txt('5 ms', bx + 3, by + 6, 11, 'l');
}
trialPanel({area: {l: 48, t: 232, r: 170, b: 398}, yMax: 36.6, yw: 28, xh: 29, name: 'Saline', scale: [145, 381, 12, 10],
  pos: E_SAL_POS, neg: E_SAL_NEG, gray: E_SAL_GRAY, top: E_SAL_TOP, topGray: E_SAL_TOP_GRAY, topArt: E_SAL_TOP_ART,
  bot: E_SAL_BOT, botGray: E_SAL_BOT_GRAY, botArt: E_SAL_BOT_ART});
trialPanel({area: {l: 232, t: 232, r: 365, b: 398}, yMax: 36.6, yw: 32, xh: 29, name: 'Cocaine', scale: [339, 383, 13, 9],
  pos: E_COC_POS, neg: E_COC_NEG, gray: E_COC_GRAY, top: E_COC_TOP, topGray: E_COC_TOP_GRAY, topArt: E_COC_TOP_ART,
  bot: E_COC_BOT, botGray: E_COC_BOT_GRAY, botArt: E_COC_BOT_ART});
trialPanel({area: {l: 424, t: 232, r: 556, b: 398}, yMax: 36.6, yw: 31, xh: 29, name: 'Morphine', scale: [529, 382, 12, 10],
  pos: E_MOR_POS, neg: E_MOR_NEG, gray: E_MOR_GRAY, top: E_MOR_TOP, topGray: E_MOR_TOP_GRAY, topArt: E_MOR_TOP_ART,
  bot: E_MOR_BOT, botGray: E_MOR_BOT_GRAY, botArt: E_MOR_BOT_ART});
trialPanel({area: {l: 49, t: 457, r: 178, b: 624}, yMax: 38.8, yw: 35, xh: 27, name: 'Saline', scale: [159, 606, 11, 13],
  pos: G_SAL_POS, neg: G_SAL_NEG, gray: G_SAL_GRAY, top: G_SAL_TOP, topGray: G_SAL_TOP_GRAY, topArt: G_SAL_TOP_ART,
  bot: G_SAL_BOT, botGray: G_SAL_BOT_GRAY, botArt: G_SAL_BOT_ART});
trialPanel({area: {l: 233, t: 457, r: 365, b: 624}, yMax: 38.8, yw: 33, xh: 27, name: 'Cocaine', scale: [338, 605, 12, 12],
  pos: G_COC_POS, neg: G_COC_NEG, gray: G_COC_GRAY, top: G_COC_TOP, topGray: G_COC_TOP_GRAY, topArt: G_COC_TOP_ART,
  bot: G_COC_BOT, botGray: G_COC_BOT_GRAY, botArt: G_COC_BOT_ART});
trialPanel({area: {l: 428, t: 457, r: 557, b: 624}, yMax: 38.8, yw: 34, xh: 27, name: 'Morphine', scale: [531, 604, 12, 12],
  pos: G_MOR_POS, neg: G_MOR_NEG, gray: G_MOR_GRAY, top: G_MOR_TOP, topGray: G_MOR_TOP_GRAY, topArt: G_MOR_TOP_ART,
  bot: G_MOR_BOT, botGray: G_MOR_BOT_GRAY, botArt: G_MOR_BOT_ART});
letter('E', 17, 233);
letter('G', 18, 455);
txt('+50 mV', 141, 254, 12);
txt('\u221270 mV', 79, 392, 12);
</script>
</body>
</html>
